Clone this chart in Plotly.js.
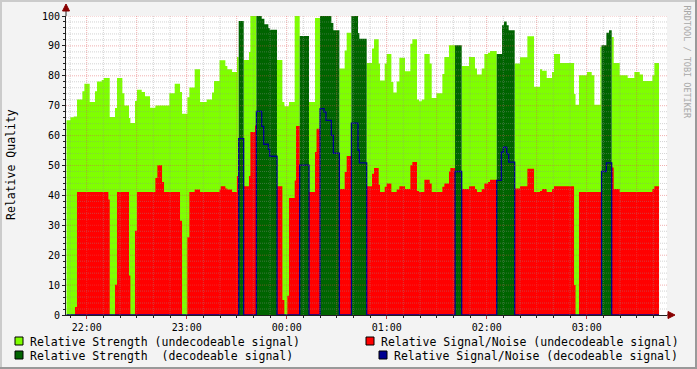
<!DOCTYPE html>
<html><head><meta charset="utf-8">
<script src="https://cdn.plot.ly/plotly-3.0.1.min.js"></script>
<style>html,body{margin:0;padding:0;background:#F3F3F3;}#chart{width:697px;height:369px;}</style>
</head><body><div id="chart"></div>
<script>
// start of each sample step, minutes after 22:00
const minutesAfter22 = [-12.1,-9.8,-7.8,-7.0,-5.8,-2.6,-1.4,1.8,5.0,6.2,
 9.0,10.2,13.0,13.8,17.0,18.2,21.4,22.6,25.4,26.2,
 29.0,30.2,33.0,35.0,38.0,41.2,42.4,45.2,46.4,49.6,
 52.8,56.0,57.2,60.4,61.6,64.8,68.0,72.0,75.2,76.4,
 79.7,80.4,83.2,84.4,87.2,90.2,91.2,94.2,97.4,98.2,
 101.0,101.8,105.0,106.2,106.6,109.0,109.8,114.2,117.4,118.6,
 120.4,121.4,124.8,125.6,127.8,133.4,137.0,137.9,140.0,142.4,
 143.6,146.8,148.0,151.6,154.8,156.0,158.8,162.8,163.6,168.0,
 171.2,172.4,175.2,176.0,178.8,180.0,182.8,184.0,186.0,187.6,
 191.0,194.2,195.4,198.2,199.4,201.0,202.6,205.8,207.0,209.8,
 213.4,214.6,217.4,218.2,221.0,225.0,229.4,233.0,234.2,237.0,
 238.6,240.8,242.0,246.0,248.8,249.2,250.0,250.4,252.0,253.2,
 256.8,260.0,264.4,268.4,272.0,273.2,276.0,279.2,280.4,284.0,
 292.4,293.3,295.4,300.2,303.0,304.6,308.2,308.9,311.8,313.4,
 315.0,316.2,319.8,324.6,328.6,331.8,333.8,339.4,340.6];
const dataEndMinute = 343.4;

const strength = [65.1,66.1,66.4,66.4,72.1,74.8,77.3,71.2,74.8,78.1,
 78.6,79.3,79.3,66.2,69.2,79.3,74.2,70.1,65.9,64.2,
 71.6,75.3,74.6,73.2,69.3,70.1,70.1,70.1,70.1,74.2,
 77.3,74.6,67.3,72.8,76.1,82.2,71.2,72.1,74.4,78.3,
 85.2,85.2,83.3,82.2,81.3,86.3,98.3,85.3,88.0,100,
 100,100,99.1,99.1,97.2,96.0,95.4,85.3,71.2,69.8,
 69.8,71.2,100,100,93.3,71.2,99.3,99.3,100,100,
 100,97.7,95.2,82.4,88.5,94.4,100,94.3,92.4,84.3,
 89.1,92.2,84.1,78.4,84.1,87.3,77.9,74.4,78.1,86.0,
 81.5,90.7,92.2,72.1,71.5,72.1,87.3,84.1,72.6,74.2,
 80.6,86.3,90.2,90.2,90.2,83.3,86.3,82.4,80.4,82.4,
 87.3,87.7,88.3,87.3,87.3,96.9,96.9,98.2,96.9,95.2,
 84.1,86.2,93.2,76.3,82.2,81.7,79.3,81.3,87.3,84.3,
 73.9,70.3,80.2,81.3,80.2,70.3,89.6,90.2,94.4,95.2,
 93.0,84.3,80.2,79.3,81.3,80.4,78.3,80.2,84.3];

const signalNoise = [0,0,0,2.7,41.1,41.1,41.1,41.1,41.1,41.1,
 41.1,41.1,38.6,0,10.1,41.1,41.1,41.1,13.2,0,
 28.2,41.1,41.1,41.1,41.1,45.8,50.1,44.5,41.1,41.1,
 41.1,31.5,0,26.0,41.1,42.0,41.1,41.1,41.1,41.1,
 42.0,43.1,42.3,42.0,41.1,46.5,59.0,43.1,46.5,61.2,
 63.4,68.1,63.1,57.1,57.1,55.4,53.1,43.1,5.0,0,
 6.4,39.1,45.0,63.2,50.1,41.1,54.5,62.3,69.0,67.9,
 65.1,60.1,54.1,42.1,47.8,53.2,64.2,55.1,50.9,43.1,
 47.2,49.2,43.6,41.1,42.9,44.0,41.1,41.1,42.0,43.1,
 42.1,50.1,51.2,41.5,41.1,41.1,45.2,44.0,41.1,41.1,
 42.9,44.0,48.0,49.2,48.0,42.1,43.1,42.1,41.1,42.1,
 44.0,44.5,45.2,45.0,54.5,54.5,56.1,56.1,53.9,51.1,
 42.3,43.1,48.9,41.1,41.5,42.1,41.1,42.1,43.1,43.1,
 10.0,0,41.1,41.1,41.1,41.1,41.1,48.0,50.9,50.9,
 49.3,42.1,41.1,41.1,41.1,41.1,41.1,42.1,43.1];

// 1 = signal decodeable during this step
const decodeable = [0,0,0,0,0,0,0,0,0,0, 0,0,0,0,0,0,0,0,0,0,
 0,0,0,0,0,0,0,0,0,0, 0,0,0,0,0,0,0,0,0,0,
 0,0,0,0,0,0,1,0,0,0, 0,1,1,1,1,1,1,0,0,0,
 0,0,0,0,1,0,0,0,1,1, 1,1,1,0,0,0,1,1,1,0,
 0,0,0,0,0,0,0,0,0,0, 0,0,0,0,0,0,0,0,0,0,
 0,0,0,0,1,0,0,0,0,0, 0,0,0,1,1,1,1,1,1,1,
 0,0,0,0,0,0,0,0,0,0, 0,0,0,0,0,0,0,1,1,1,
 0,0,0,0,0,0,0,0,0];

const seriesNames = ['Relative Strength (undecodeable signal)',
 'Relative Signal/Noise (undecodeable signal)',
 'Relative Strength  (decodeable signal)',
 'Relative Signal/Noise (decodeable signal)'];
const seriesColors = ['#7FFF00','#FF0000','#006400','#000090'];
const yLabel = 'Relative Quality';
const credit = 'RRDTOOL / TOBI OETIKER';

const base = Date.UTC(2024,0,1,22,0,0);
const toMs = m => base + m*60000;
const xs = minutesAfter22.map(toMs).concat([toMs(dataEndMinute)]);
function ser(fn){ const v = strength.map((s,i)=>fn(i)); v.push(v[v.length-1]); return v; }
const sU = ser(i => decodeable[i] ? 0 : strength[i]);
const nU = ser(i => decodeable[i] ? 0 : signalNoise[i]);
const sD = ser(i => decodeable[i] ? strength[i] : 0);
const nD = ser(i => decodeable[i] ? signalNoise[i] : 0);

function area(y, c){ return {x: xs, y: y, type:'scatter', mode:'lines', line:{shape:'hv', width:0, color:c}, fill:'tozeroy', fillcolor:c, hoverinfo:'skip', showlegend:false}; }
const traces = [area(sU, seriesColors[0]), area(nU, seriesColors[1]), area(sD, seriesColors[2]),
 {x: xs, y: nD, type:'scatter', mode:'lines', line:{shape:'hv', width:1.3, color:seriesColors[3]}, hoverinfo:'skip', showlegend:false}];

// geometry
const L = 66, R = 667, T = 16, B = 315, W = 697, H = 369;
const px2x = p => (p - L)/(R - L);
const px2y = p => (B - p)/(B - T);
const xMin = (L - 86.7)*0.6, xMax = (R - 86.7)*0.6;

const shapes = [];
const minorC = 'rgba(144,144,144,0.4)', majorC = 'rgba(224,80,80,0.45)';
for (let m = Math.ceil(xMin/10)*10; m <= xMax; m += 10) {
  const major = (m % 30 === 0);
  shapes.push({type:'line', layer:'above', xref:'x', yref:'paper', x0:toMs(m), x1:toMs(m), y0:0, y1:1,
    line:{color: major?majorC:minorC, width:1, dash:'1px,1px'}});
}
for (let v = 2; v <= 100; v += 2) {
  const major = (v % 10 === 0);
  shapes.push({type:'line', layer:'above', xref:'paper', yref:'y', x0:0, x1:1, y0:v, y1:v,
    line:{color: major?majorC:minorC, width:1, dash:'1px,1px'}});
}
// axis extensions and arrows
const arrowC = '#880000';
shapes.push({type:'line', layer:'above', xref:'paper', yref:'paper', x0:0, x1:0, y0:1, y1:px2y(9), line:{color:'#202020', width:1}});
shapes.push({type:'path', layer:'above', xref:'paper', yref:'paper', path:
  `M ${px2x(62.5)} ${px2y(11)} L ${px2x(69.5)} ${px2y(11)} L ${px2x(66)} ${px2y(4)} Z`, fillcolor:arrowC, line:{color:arrowC, width:1}});
shapes.push({type:'line', layer:'above', xref:'paper', yref:'paper', x0:1, x1:px2x(670), y0:0, y1:0, line:{color:'#202020', width:1}});
shapes.push({type:'path', layer:'above', xref:'paper', yref:'paper', path:
  `M ${px2x(668)} ${px2y(311.5)} L ${px2x(668)} ${px2y(318.5)} L ${px2x(675)} ${px2y(315)} Z`, fillcolor:arrowC, line:{color:arrowC, width:1}});
// frame shading
shapes.push({type:'line', xref:'paper', yref:'paper', x0:px2x(0), x1:px2x(W), y0:px2y(H-1), y1:px2y(H-1), line:{color:'#999999', width:2}});
shapes.push({type:'line', xref:'paper', yref:'paper', x0:px2x(W-1), x1:px2x(W-1), y0:px2y(0), y1:px2y(H), line:{color:'#999999', width:2}});
shapes.push({type:'line', xref:'paper', yref:'paper', x0:px2x(0), x1:px2x(W-2), y0:px2y(1), y1:px2y(1), line:{color:'#CBCBCB', width:2}});
shapes.push({type:'line', xref:'paper', yref:'paper', x0:px2x(1), x1:px2x(1), y0:px2y(0), y1:px2y(H-2), line:{color:'#CBCBCB', width:2}});

// legend
const legPos = [[15,337],[366,337],[15,351],[379,351]];
const annotations = [];
const font = 'DejaVu Sans Mono';
seriesNames.forEach((name, i) => {
  const [bx, by] = legPos[i];
  shapes.push({type:'rect', xref:'paper', yref:'paper', x0:px2x(bx), x1:px2x(bx+8), y0:px2y(by), y1:px2y(by+8),
    fillcolor:seriesColors[i], line:{color:'#000000', width:1}});
  annotations.push({xref:'paper', yref:'paper', x:px2x(bx+13), y:px2y(by+4.5), xanchor:'left', yanchor:'middle',
    showarrow:false, text:name.replace(/  /g,' \u00A0'), font:{family:font, size:11.5, color:'#000'}});
});
annotations.push({xref:'paper', yref:'paper', x:px2x(11), y:px2y(165), textangle:-90, xanchor:'center', yanchor:'middle',
  showarrow:false, text:yLabel, font:{family:font, size:11.5, color:'#000'}});
annotations.push({xref:'paper', yref:'paper', x:px2x(687), y:px2y(3), textangle:90, xanchor:'center', yanchor:'top',
  showarrow:false, text:credit, font:{family:font, size:8.5, color:'#a8a8a8'}});

const layout = {
  width: W, height: H, autosize:false,
  margin:{l:L, r:W-R, t:T, b:H-B, pad:0},
  paper_bgcolor:'#F3F3F3', plot_bgcolor:'#FFFFFF',
  font:{family:font, size:10, color:'#000'},
  showlegend:false,
  xaxis:{type:'date', range:[toMs(xMin), toMs(xMax)], showgrid:false, zeroline:false,
    tickformat:'%H:%M', tick0:toMs(0), dtick:3600000, ticks:'outside', ticklen:3, tickcolor:'#C04040',
    showline:true, linecolor:'#202020', linewidth:1, layer:'above traces',
    tickfont:{family:font, size:10, color:'#000'},
    minor:{dtick:600000, ticks:'outside', ticklen:2, tickcolor:'#202020', showgrid:false}},
  yaxis:{range:[0,100], showgrid:false, zeroline:false, dtick:10, ticks:'outside', ticklen:3, tickcolor:'#202020',
    showline:true, linecolor:'#202020', linewidth:1, layer:'above traces',
    tickfont:{family:font, size:10, color:'#000'},
    minor:{dtick:2, ticks:'outside', ticklen:2, tickcolor:'#202020', showgrid:false}},
  shapes: shapes, annotations: annotations
};
Plotly.newPlot('chart', traces, layout, {staticPlot:true, displayModeBar:false});
</script></body></html>
